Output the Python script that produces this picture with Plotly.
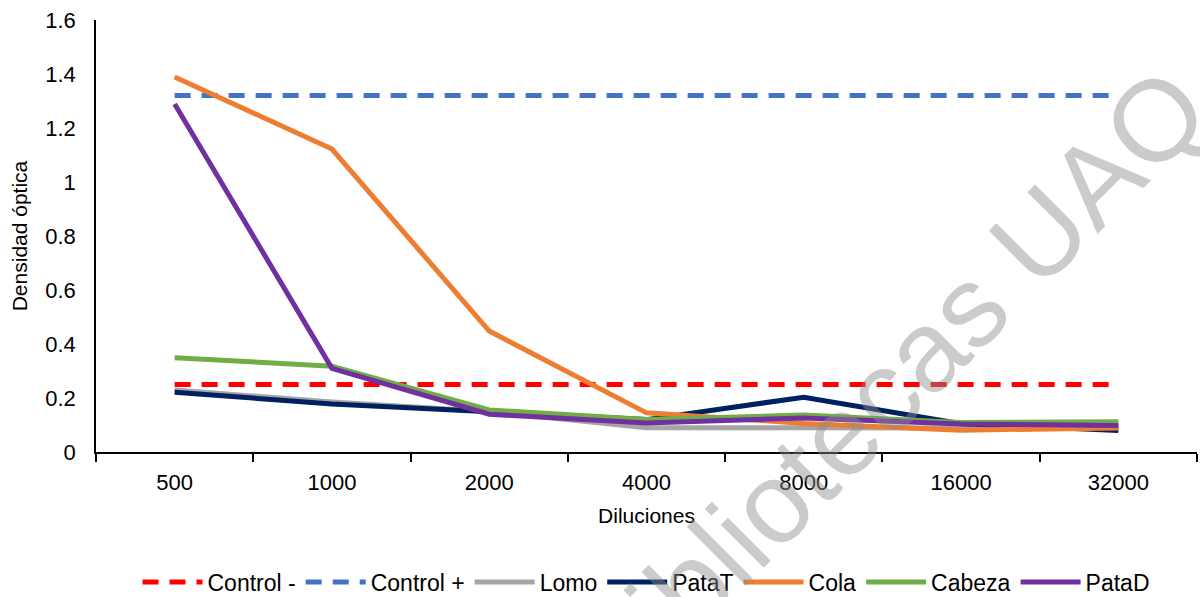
import plotly.graph_objects as go

diluciones = ["500", "1000", "2000", "4000", "8000", "16000", "32000"]
control_neg = [0.25, 0.25, 0.25, 0.25, 0.25, 0.25, 0.25]
control_pos = [1.32, 1.32, 1.32, 1.32, 1.32, 1.32, 1.32]
lomo = [0.23, 0.185, 0.15, 0.09, 0.09, 0.089, 0.094]
patat = [0.221, 0.178, 0.149, 0.12, 0.203, 0.105, 0.08]
cola = [1.389, 1.122, 0.448, 0.145, 0.106, 0.081, 0.089]
cabeza = [0.349, 0.318, 0.156, 0.12, 0.137, 0.109, 0.112]
patad = [1.289, 0.31, 0.14, 0.107, 0.126, 0.104, 0.098]

series = [
    ("Control -", control_neg, "#FF0000", "16px,11px"),
    ("Control +", control_pos, "#4472C4", "16px,11px"),
    ("Lomo", lomo, "#A5A5A5", "solid"),
    ("PataT", patat, "#002060", "solid"),
    ("Cola", cola, "#ED7D31", "solid"),
    ("Cabeza", cabeza, "#70AD47", "solid"),
    ("PataD", patad, "#7030A0", "solid"),
]

fig = go.Figure()
for name, vals, color, dash in series:
    fig.add_trace(go.Scatter(
        x=diluciones, y=vals, name=name, mode="lines",
        line=dict(color=color, width=5, dash=dash),
    ))

font_family = "Liberation Sans, Arial, sans-serif"

fig.update_layout(
    width=1200, height=597,
    margin=dict(l=96, r=3, t=20, b=145, autoexpand=False),
    plot_bgcolor="white", paper_bgcolor="white",
    font=dict(family=font_family, color="black", size=22),
    showlegend=True,
    legend=dict(
        orientation="h", x=0.5, xanchor="center",
        yref="container", y=(597 - 582) / 597, yanchor="middle",
        font=dict(size=23, family=font_family), itemwidth=60,
        tracegroupgap=0,
    ),
    xaxis=dict(
        type="category", range=[-0.5, 6.5], automargin=False,
        showline=True, linecolor="black", linewidth=1.5,
        ticks="outside", tickson="boundaries", ticklen=8, tickcolor="black", tickwidth=1.5,
        showgrid=False, zeroline=False,
        tickfont=dict(size=22), ticklabelstandoff=10,
        title=dict(text="Diluciones", font=dict(size=21), standoff=14),
    ),
    yaxis=dict(
        range=[0, 1.6], dtick=0.2, tick0=0, automargin=False,
        showline=True, linecolor="black", linewidth=1.5,
        ticks="", showgrid=False, zeroline=False,
        tickfont=dict(size=22), ticklabelstandoff=14,
        title=dict(text="Densidad óptica", font=dict(size=21), standoff=12),
    ),
)

fig.add_annotation(
    text="Bibliotecas UAQ", xref="paper", yref="paper",
    x=(890 - 96) / 1101, y=(452 - 385) / 432, xanchor="center", yanchor="middle",
    showarrow=False, textangle=-45,
    font=dict(size=115, family=font_family, color="rgba(140,140,140,0.45)"),
)

fig.write_html("out.html")
